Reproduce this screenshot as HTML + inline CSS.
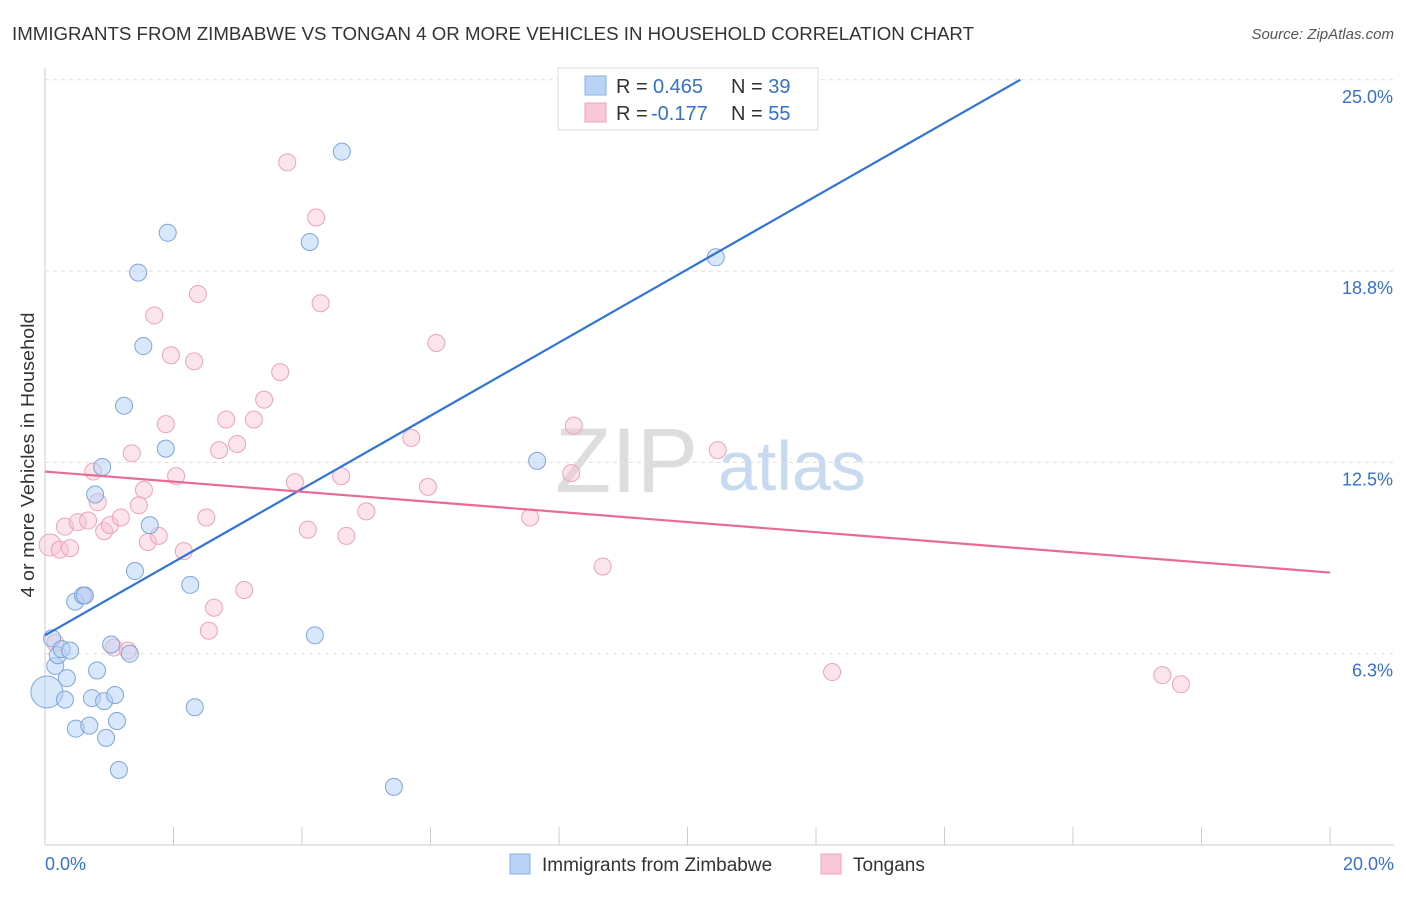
<!DOCTYPE html>
<html><head><meta charset="utf-8"><style>
body{margin:0;background:#fff;font-family:"Liberation Sans",sans-serif;}
svg text{font-family:"Liberation Sans",sans-serif;}
</style></head><body>
<svg width="1406" height="892" xmlns="http://www.w3.org/2000/svg">
<text x="12" y="40" font-size="18" fill="#333" textLength="962" lengthAdjust="spacingAndGlyphs">IMMIGRANTS FROM ZIMBABWE VS TONGAN 4 OR MORE VEHICLES IN HOUSEHOLD CORRELATION CHART</text>
<text x="1394" y="39" font-size="15" fill="#555" font-style="italic" text-anchor="end">Source: ZipAtlas.com</text>
<g id="grid"></g>
<text x="555" y="492" font-size="92" fill="#ddd" font-family="Liberation Serif">ZIP</text>
<text x="718" y="490" font-size="70" fill="#c8daf0">atlas</text>
<text x="34" y="455" font-size="18" fill="#333" text-anchor="middle" textLength="285" lengthAdjust="spacingAndGlyphs" transform="rotate(-90 34 455)">4 or more Vehicles in Household</text>
<g id="points"></g>
<g id="lines"></g>
<g>
<rect x="558" y="68" width="260" height="62" fill="#fff" stroke="#ddd"/>
<rect x="585" y="76" width="21" height="19" fill="#b8d3f5" stroke="#8ab1e6"/>
<rect x="585" y="103" width="21" height="19" fill="#f9c8d6" stroke="#eea3b9"/>
<text x="616" y="93" font-size="20" fill="#333">R = <tspan x="653" fill="#3571cc">0.465</tspan></text>
<text x="731" y="93" font-size="20" fill="#333">N = <tspan fill="#3571cc">39</tspan></text>
<text x="616" y="120" font-size="20" fill="#333">R = <tspan x="651" fill="#3571cc">-0.177</tspan></text>
<text x="731" y="120" font-size="20" fill="#333">N = <tspan fill="#3571cc">55</tspan></text>
</g>
<g>
<rect x="510" y="854" width="20" height="20" fill="#b8d3f5" stroke="#8ab1e6"/>
<text x="542" y="871" font-size="19" fill="#333">Immigrants from Zimbabwe</text>
<rect x="821" y="854" width="20" height="20" fill="#f9c8d6" stroke="#eea3b9"/>
<text x="853" y="871" font-size="19" fill="#333">Tongans</text>
</g>
</svg>
<script>
const xTicks=[0,2,4,6,8,10,12,14,16,18,20];
const yTicks=[6.25,12.5,18.75,25];
const yTickLabels=["6.3%","12.5%","18.8%","25.0%"];
const zimX=[0.03,0.11,0.16,0.2,0.26,0.39,0.34,0.31,0.47,0.48,0.69,0.73,0.59,0.62,0.81,0.78,0.89,0.92,0.95,1.09,1.12,1.15,1.03,1.32,1.23,1.4,1.45,1.53,1.63,1.88,1.91,2.26,2.33,4.12,4.2,4.62,5.43,7.66,10.44];
const zimY=[5.0,6.75,5.85,6.2,6.4,6.35,5.45,4.75,7.95,3.8,3.9,4.8,8.15,8.15,5.7,11.45,12.35,4.7,3.5,4.9,4.05,2.45,6.55,6.25,14.35,8.95,18.7,16.3,10.45,12.95,20.0,8.5,4.5,19.7,6.85,22.65,1.9,12.55,19.2];
const tonX=[0.08,0.16,0.23,0.31,0.39,0.51,0.62,0.67,0.75,0.82,0.92,1.01,1.07,1.18,1.29,1.35,1.46,1.54,1.6,1.7,1.77,1.88,1.96,2.04,2.16,2.32,2.38,2.51,2.55,2.63,2.71,2.82,2.99,3.1,3.25,3.41,3.66,3.77,3.89,4.09,4.22,4.29,4.61,4.69,5.0,5.7,5.96,6.09,7.55,8.19,8.23,8.68,10.47,12.25,17.39,17.68];
const tonY=[9.8,6.6,9.65,10.4,9.7,10.55,8.15,10.6,12.2,11.2,10.25,10.45,6.45,10.7,6.35,12.8,11.1,11.6,9.9,17.3,10.1,13.75,16.0,12.05,9.6,15.8,18.0,10.7,7.0,7.75,12.9,13.9,13.1,8.33,13.9,14.55,15.45,22.3,11.85,10.3,20.5,17.7,12.05,10.1,10.9,13.3,11.7,16.4,10.7,12.15,13.7,9.1,12.9,5.65,5.55,5.25];
const zimLine=[0,6.85,15.18,25];
const tonLine=[0,12.2,20,8.9];
const NS="http://www.w3.org/2000/svg";
const sx=v=>45+v*64.25, sy=v=>845-v*30.61;
function mk(tag,attrs,parent){const e=document.createElementNS(NS,tag);for(const k in attrs)e.setAttribute(k,attrs[k]);parent.appendChild(e);return e;}
const grid=document.getElementById('grid');
mk('line',{x1:45,y1:68,x2:45,y2:845,stroke:'#ccc'},grid);
mk('line',{x1:45,y1:845,x2:1394,y2:845,stroke:'#ccc'},grid);
yTicks.forEach((t,i)=>{
 const l=mk('line',{x1:45,y1:sy(t),x2:1394,y2:sy(t),stroke:'#ddd','stroke-dasharray':'4,4'},grid);
 
 
 const tx=mk('text',{x:1393,y:sy(t)+23,'font-size':18,fill:'#3571cc','text-anchor':'end'},grid);
 tx.textContent=yTickLabels[i];
 
 
});
xTicks.forEach(t=>{
 const l=mk('line',{x1:sx(t),y1:827,x2:sx(t),y2:845,stroke:'#ccc'},grid);
 
 
});
[[0,'0.0%','start',45],[20,'20.0%','end',1394]].forEach(a=>{
 const tx=mk('text',{x:a[3],y:870,'font-size':18,fill:'#3571cc','text-anchor':a[2]},grid);
 tx.textContent=a[1];
 
 
});
const pts=document.getElementById('points');
tonX.forEach((x,i)=>{
 const c=mk('circle',{cx:sx(x),cy:sy(tonY[i]),r:i==0?11:8.5,fill:'rgba(249,195,211,0.45)',stroke:'#eea3b9','stroke-width':1},pts);
 
 
});
zimX.forEach((x,i)=>{
 const c=mk('circle',{cx:sx(x),cy:sy(zimY[i]),r:i==0?16:8.5,fill:'rgba(180,208,245,0.5)',stroke:'#7ea6dc','stroke-width':1},pts);
 
 
});
const ln=document.getElementById('lines');
const bl=mk('line',{x1:sx(zimLine[0]),y1:sy(zimLine[1]),x2:sx(zimLine[2]),y2:sy(zimLine[3]),stroke:'#2f74d6','stroke-width':2.2},ln);


const pl=mk('line',{x1:sx(tonLine[0]),y1:sy(tonLine[1]),x2:sx(tonLine[2]),y2:sy(tonLine[3]),stroke:'#e8699a','stroke-width':2.2},ln);


</script>
</body></html>
